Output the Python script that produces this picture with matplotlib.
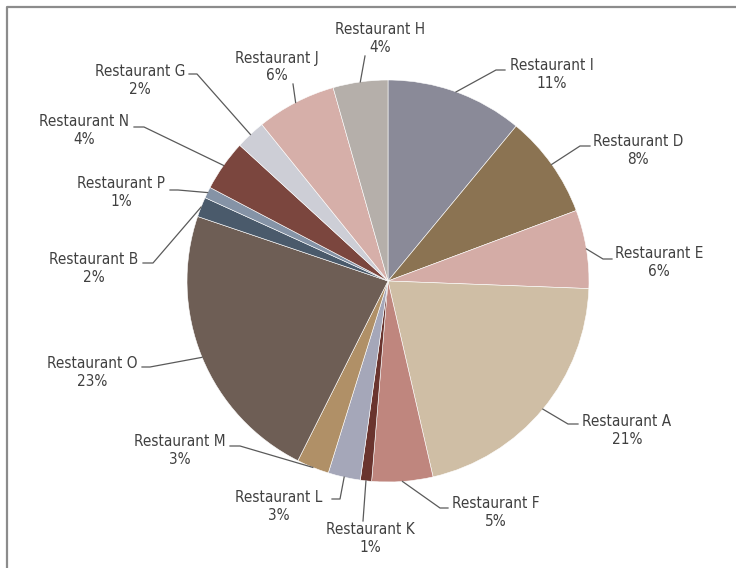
import matplotlib
matplotlib.use("Agg")
import matplotlib.pyplot as plt
import numpy as np

# shares (%) in clockwise order starting at 12 o'clock
names = ["Restaurant I", "Restaurant D", "Restaurant E", "Restaurant A",
         "Restaurant F", "Restaurant K", "Restaurant L", "Restaurant M",
         "Restaurant O", "Restaurant B", "Restaurant P", "Restaurant N",
         "Restaurant G", "Restaurant J", "Restaurant H"]
shares = [11.0, 8.3, 6.3, 20.8, 4.9, 0.9, 2.6, 2.6, 22.8, 1.6, 0.9, 4.1, 2.4, 6.4, 4.4]
colors = ["#8a8a98", "#8b7352", "#d4aca6", "#cfbea5", "#bf867e", "#6a342e",
          "#a5a7b9", "#b09067", "#6e5e55", "#4a5a6b", "#8593a6", "#7b463e",
          "#cdced6", "#d6afa9", "#b5afaa"]

W, H = 736, 568
CX, CY, R = 388, 281, 201   # pie centre / radius in image pixels

# label layout in image pixels: text centre, elbow of leader, end of leader
label_xy = [(552, 75), (638, 150), (659, 263), (627, 431), (496, 513),
            (370, 539), (279, 506), (180, 450), (92, 372), (94, 269),
            (121, 193), (84, 130), (140, 80), (277, 67), (380, 39)]
elbows = [(496, 70), (580, 146), (603, 259), (568, 424), (440, 508),
          (363, 521), (340, 499), (240, 446), (150, 367), (153, 263),
          (178, 190), (144, 127), (197, 74), (293, 84), (365, 56)]
ends = [(505, 70), (590, 146), (612, 259), (578, 424), (448, 508),
        (363, 521), (332, 499), (230, 446), (142, 367), (143, 263),
        (170, 190), (134, 127), (189, 74), (293, 84), (365, 56)]

plt.rcParams['font.family'] = ['DejaVu Sans']

fig = plt.figure(figsize=(W / 100, H / 100), dpi=100)
ax = fig.add_axes([0, 0, 1, 1])

def fy(y):
    return H - y

ax.pie(shares, colors=colors, startangle=90, counterclock=False,
       center=(CX, fy(CY)), radius=R, frame=True,
       wedgeprops=dict(edgecolor='white', linewidth=0.4))
ax.set_xlim(0, W)
ax.set_ylim(0, H)
ax.axis('off')

# outer frame (cropped on the right and bottom)
ax.plot([7, 7, W + 5], [fy(H + 5), fy(7), fy(7)], color='#8c8c8c', lw=1.6,
        clip_on=False)

cum = np.cumsum([0] + shares[:-1])
for i, name in enumerate(names):
    mid = (cum[i] + shares[i] / 2) / 100 * 2 * np.pi
    sx = CX + R * np.sin(mid)
    sy = CY - R * np.cos(mid)
    ex, ey = elbows[i]
    tx, ty = ends[i]
    ax.plot([sx, ex, tx], [fy(sy), fy(ey), fy(ty)], color='#5a5a5a', lw=0.9)
    lx, ly = label_xy[i]
    ax.text(lx, fy(ly), f"{name}\n{round(shares[i])}%", ha='center', va='center',
            fontsize=11, color='#404040', linespacing=1.25, fontstretch='condensed')

fig.savefig("out.png", dpi=100)
